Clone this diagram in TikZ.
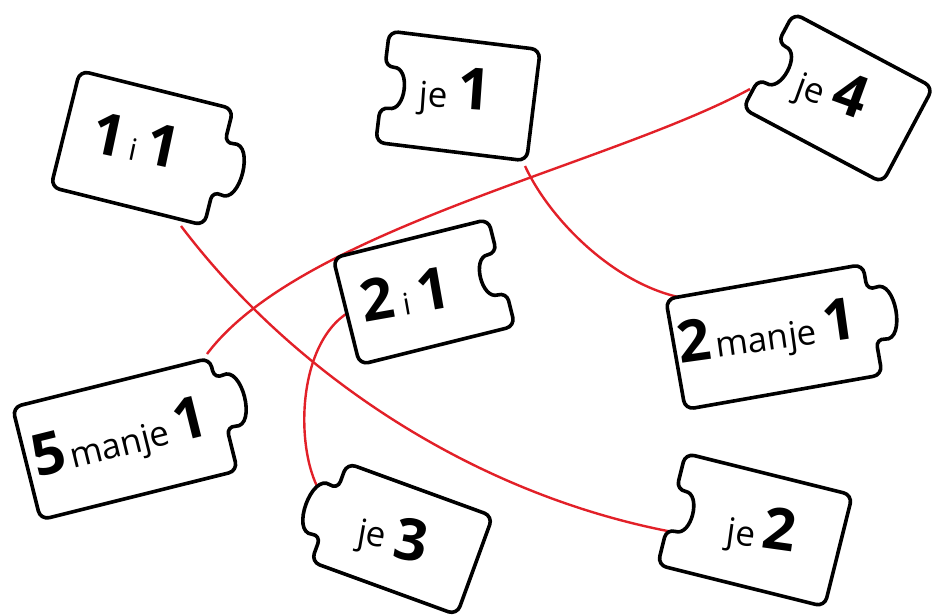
\documentclass[tikz,border=0pt]{standalone}
\usepackage{fontspec}
\setmainfont{Open Sans}
\newfontfamily\handfont{Open Sans}
\definecolor{linkred}{RGB}{226,32,40}
\newcommand\pdig[1]{{\fontsize{58}{58}\selectfont\bfseries #1}}
\newcommand\pword[1]{{\fontsize{35}{35}\selectfont #1}}
\newcommand\psmall[1]{{\fontsize{30}{30}\selectfont #1}}
\tikzset{
  piece/.style={draw=black, fill=white, line width=3.6pt, line join=round, rounded corners=9pt},
  link/.style={draw=linkred, line width=2.4pt},
  lbl/.style={inner sep=0pt, font=\handfont},
  pics/tabright/.style n args={3}{code={
    \path[piece] ({-#1/2},{-#2/2}) -- ({#1/2},{-#2/2}) -- ({#1/2},{#3-24})
      .. controls ({#1/2+30},{#3-32}) and ({#1/2+30},{#3+32}) .. ({#1/2},{#3+24})
      -- ({#1/2},{#2/2}) -- ({-#1/2},{#2/2}) -- cycle;}},
  pics/tableft/.style n args={3}{code={
    \path[piece] ({-#1/2},{-#2/2}) -- ({#1/2},{-#2/2}) -- ({#1/2},{#2/2})
      -- ({-#1/2},{#2/2}) -- ({-#1/2},{#3+24})
      .. controls ({-#1/2-30},{#3+32}) and ({-#1/2-30},{#3-32}) .. ({-#1/2},{#3-24})
      -- cycle;}},
  pics/notchleft/.style n args={3}{code={
    \path[piece] ({-#1/2},{-#2/2}) -- ({#1/2},{-#2/2}) -- ({#1/2},{#2/2})
      -- ({-#1/2},{#2/2}) -- ({-#1/2},{#3+20})
      .. controls ({-#1/2+26},{#3+22}) and ({-#1/2+26},{#3-22}) .. ({-#1/2},{#3-20})
      -- cycle;}},
  pics/notchright/.style n args={3}{code={
    \path[piece] ({-#1/2},{-#2/2}) -- ({#1/2},{-#2/2}) -- ({#1/2},{#3-20})
      .. controls ({#1/2-26},{#3-22}) and ({#1/2-26},{#3+22}) .. ({#1/2},{#3+20})
      -- ({#1/2},{#2/2}) -- ({-#1/2},{#2/2}) -- cycle;}}
}
\begin{document}
\begin{tikzpicture}[x=1pt,y=-1pt]
\useasboundingbox (0,0) rectangle (933,614);
% connector end points
\coordinate (a1) at (181,226);
\coordinate (a2) at (678,533);
\coordinate (b1) at (525,166);
\coordinate (b2) at (683,298);
\coordinate (c1) at (750,89);
\coordinate (c2) at (207,354);
\coordinate (d1) at (349,312);
\coordinate (d2) at (322,495);
% connectors
\draw[link] (a1) .. controls (290,370) and (470,495) .. (a2);
\draw[link] (b1) .. controls (550,220) and (615,285) .. (b2);
\draw[link] (c1) .. controls (610,165) and (300,230) .. (c2);
\draw[link] (d1) .. controls (295,345) and (295,455) .. (d2);
% pieces
\pic[rotate=-14] at (142,148) {tabright={158}{120}{0}};
\pic[rotate=-7]  at (458,96)  {notchleft={152}{112}{0}};
\pic[rotate=-28] at (838,98)  {notchleft={158}{108}{0}};
\pic[rotate=14]  at (424,292) {notchright={160}{110}{0}};
\pic[rotate=10]  at (774,337) {tabright={200}{112}{-5}};
\pic[rotate=14]  at (125,439) {tabright={203}{116}{-12}};
\pic[rotate=-20] at (402,539) {tableft={155}{105}{0}};
\pic[rotate=-14] at (755,530) {notchleft={172}{115}{0}};
% labels
\node[lbl, rotate=-12] (t1) at (136,140) {\pdig{1}\hspace{7pt}\psmall{i}\hspace{7pt}\pdig{1}};
\node[lbl, rotate=-4]  (t2) at (455,92)  {\pword{je}\hspace{9pt}\pdig{1}};
\node[lbl, rotate=-20] (t3) at (832,92)  {\pword{je}\hspace{9pt}\pdig{4}};
\node[lbl, rotate=10]  (t4) at (405,294) {\pdig{2}\hspace{8pt}\psmall{i}\hspace{8pt}\pdig{1}};
\node[lbl, rotate=8]   (t5) at (767,334) {\pdig{2}\hspace{4pt}\pword{manje}\hspace{7pt}\pdig{1}};
\node[lbl, rotate=14]  (t6) at (120,440) {\pdig{5}\hspace{4pt}\pword{manje}\hspace{7pt}\pdig{1}};
\node[lbl, rotate=-10] (t7) at (393,537) {\pword{je}\hspace{9pt}\raisebox{-8pt}{\pdig{3}}};
\node[lbl, rotate=-8]  (t8) at (762,531) {\pword{je}\hspace{7pt}\pdig{2}};
\end{tikzpicture}
\end{document}
